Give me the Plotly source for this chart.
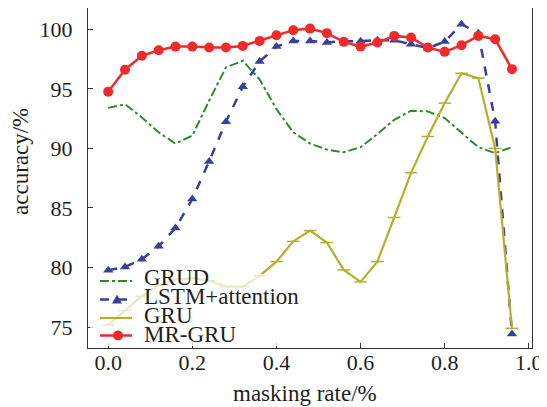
import plotly.graph_objects as go

masking_rate = [0.00, 0.04, 0.08, 0.12, 0.16, 0.20, 0.24, 0.28, 0.32, 0.36, 0.40, 0.44,
                0.48, 0.52, 0.56, 0.60, 0.64, 0.68, 0.72, 0.76, 0.80, 0.84, 0.88, 0.92, 0.96]

grud = [93.4, 93.7, 92.6, 91.35, 90.4, 91.07, 94.0, 96.8, 97.35, 95.8, 93.3, 91.35,
        90.4, 89.9, 89.67, 90.1, 91.2, 92.4, 93.16, 93.1, 92.55, 91.35, 90.1, 89.6, 90.1]

lstm_attention = [79.77, 80.05, 80.7, 81.78, 83.31, 85.75, 88.9, 92.24, 95.17, 97.29, 98.54, 99.02,
                  99.02, 98.88, 99.0, 99.0, 99.08, 99.08, 98.74, 98.41, 98.96, 100.42, 99.67, 92.27, 74.42]

gru = [75.2, 76.4, 77.6, 78.5, 79.0, 79.1, 78.9, 78.4, 78.4, 79.3, 80.5, 82.2,
       83.1, 82.1, 79.8, 78.8, 80.5, 84.2, 87.95, 91.0, 93.8, 96.3, 95.9, 90.0, 74.9]

mr_gru = [94.75, 96.6, 97.77, 98.24, 98.54, 98.54, 98.46, 98.46, 98.6, 99.02, 99.5, 99.92,
          100.05, 99.67, 98.94, 98.54, 98.88, 99.44, 99.3, 98.46, 98.1, 98.66, 99.44, 99.16, 96.65]

series_names = ["GRUD", "LSTM+attention", "GRU", "MR-GRU"]

x_ticks = [0.0, 0.2, 0.4, 0.6, 0.8, 1.0]
x_tick_labels = ["0.0", "0.2", "0.4", "0.6", "0.8", "1.0"]
y_ticks = [75, 80, 85, 90, 95, 100]
y_tick_labels = ["75", "80", "85", "90", "95", "100"]

x_title = "masking rate/%"
y_title = "accuracy/%"

FONT = "Liberation Serif, Times New Roman, serif"
TXT = "#1e1e1e"
C_GRUD = "#2f8a2f"
C_LSTM = "#3a3f9a"
C_GRU = "#b3b02c"
C_MR = "#ee2b2b"

# The page body adds an 8px offset, so the figure is sized to fit the window exactly.
OFF = 8
W, H = 547 - OFF, 407 - OFF
ML, MR_, MT, MB = 80, 15, 0, 59
PW, PH = W - ML - MR_, H - MT - MB


def px(x):
    """page pixel x -> paper x"""
    return (x - OFF - ML) / PW


def py(y):
    """page pixel y -> paper y"""
    return (H - MB - (y - OFF)) / PH


fig = go.Figure()
fig.add_trace(go.Scatter(
    x=masking_rate, y=grud, name=series_names[0], mode="lines",
    line=dict(color=C_GRUD, width=2, dash="dashdot"),
))
fig.add_trace(go.Scatter(
    x=masking_rate, y=lstm_attention, name=series_names[1], mode="lines+markers",
    line=dict(color=C_LSTM, width=2.5, dash="dash"),
    marker=dict(symbol="triangle-up", size=9, color=C_LSTM),
))
fig.add_trace(go.Scatter(
    x=masking_rate, y=gru, name=series_names[2], mode="lines+markers",
    line=dict(color=C_GRU, width=2.2),
    marker=dict(symbol="line-ew", size=9, color=C_GRU, line=dict(color=C_GRU, width=1.5)),
))
fig.add_trace(go.Scatter(
    x=masking_rate, y=mr_gru, name=series_names[3], mode="lines+markers",
    line=dict(color=C_MR, width=2.5),
    marker=dict(symbol="circle", size=10, color=C_MR),
))

# ---- hand-drawn legend (compact row spacing like the reference) ----
shapes = [dict(type="rect", xref="paper", yref="paper", layer="above",
               x0=px(90), x1=px(306), y0=py(346), y1=py(274),
               fillcolor="rgba(255,255,255,0.72)", line=dict(width=0))]
rows_text_y = [277, 296, 315, 334]
rows_line_y = [281, 299.5, 318, 335.5]
styles = [(C_GRUD, "dashdot", 2), (C_LSTM, "dash", 2.5), (C_GRU, "solid", 2.2), (C_MR, "solid", 2.5)]
for (col, dash, w), ly in zip(styles, rows_line_y):
    shapes.append(dict(type="line", xref="paper", yref="paper", layer="above",
                       x0=px(100), x1=px(132), y0=py(ly), y1=py(ly),
                       line=dict(color=col, width=w, dash=dash)))
tx, ty, s = 117, rows_line_y[1], 5
shapes.append(dict(type="path", xref="paper", yref="paper", layer="above",
                   path=f"M {px(tx - s)} {py(ty + s * 0.8)} L {px(tx + s)} {py(ty + s * 0.8)} "
                        f"L {px(tx)} {py(ty - s * 1.0)} Z",
                   fillcolor=C_LSTM, line=dict(width=0)))
cx, cy, r = 118, rows_line_y[3], 5
shapes.append(dict(type="circle", xref="paper", yref="paper", layer="above",
                   x0=px(cx - r), x1=px(cx + r), y0=py(cy + r), y1=py(cy - r),
                   fillcolor=C_MR, line=dict(width=0)))

annotations = []
for name, ty_ in zip(series_names, rows_text_y):
    annotations.append(dict(text=name, xref="paper", yref="paper", x=px(142), y=py(ty_),
                            xanchor="left", yanchor="middle", showarrow=False,
                            font=dict(family=FONT, size=23, color=TXT)))
# axis titles (placed like the reference, not centred on the axis)
annotations.append(dict(text=x_title, xref="paper", yref="paper", x=px(305), y=py(393),
                        xanchor="center", yanchor="middle", showarrow=False,
                        font=dict(family=FONT, size=23, color=TXT)))
annotations.append(dict(text=y_title, xref="paper", yref="paper", x=px(21), y=py(162),
                        xanchor="center", yanchor="middle", showarrow=False, textangle=-90,
                        font=dict(family=FONT, size=23, color=TXT)))

fig.update_layout(
    width=W, height=H,
    margin=dict(l=ML, r=MR_, t=MT, b=MB, autoexpand=False),
    paper_bgcolor="white", plot_bgcolor="white",
    font=dict(family=FONT, size=22, color=TXT),
    showlegend=False,
    shapes=shapes,
    annotations=annotations,
    xaxis=dict(
        range=[-0.048, 1.0076], tickvals=x_ticks, ticktext=x_tick_labels,
        ticks="inside", ticklen=5, tickcolor="#333333", automargin=False,
        showline=True, linecolor="#333333", linewidth=1.2, mirror=True,
        showgrid=False, zeroline=False, ticklabelstandoff=-6,
        tickfont=dict(family=FONT, size=22, color=TXT),
    ),
    yaxis=dict(
        range=[73.25, 101.78], tickvals=y_ticks, ticktext=y_tick_labels,
        ticks="inside", ticklen=5, tickcolor="#333333", automargin=False,
        showline=True, linecolor="#333333", linewidth=1.2, mirror=True,
        showgrid=False, zeroline=False, ticklabelstandoff=10,
        tickfont=dict(family=FONT, size=22, color=TXT),
    ),
)

fig.write_html("out.html")
